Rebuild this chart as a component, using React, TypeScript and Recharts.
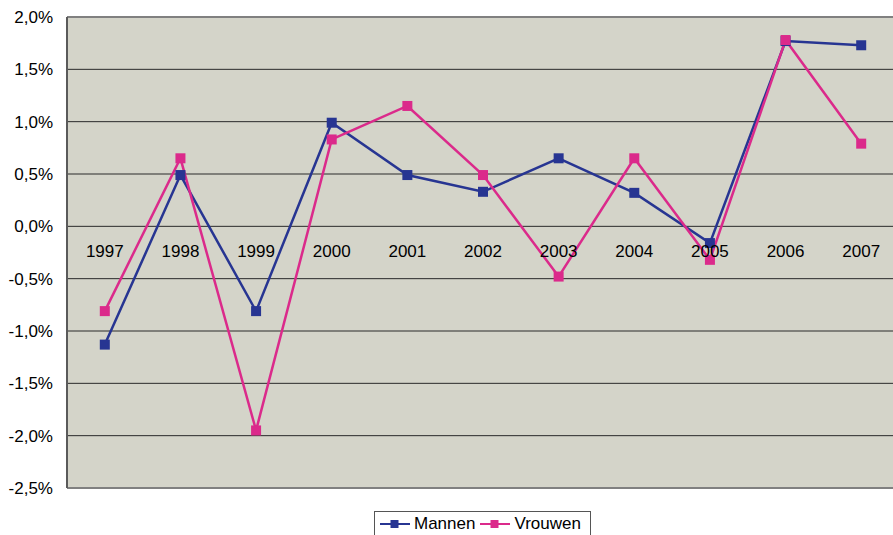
import React from "react";
import {
  LineChart,
  Line,
  XAxis,
  YAxis,
  CartesianGrid,
  ReferenceLine,
} from "recharts";

const years = ["1997", "1998", "1999", "2000", "2001", "2002", "2003", "2004", "2005", "2006", "2007"];
const mannen = [-1.13, 0.49, -0.81, 0.99, 0.49, 0.33, 0.65, 0.32, -0.16, 1.77, 1.73];
const vrouwen = [-0.81, 0.65, -1.95, 0.83, 1.15, 0.49, -0.48, 0.65, -0.32, 1.78, 0.79];
const yTicks = [-2.5, -2, -1.5, -1, -0.5, 0, 0.5, 1, 1.5, 2];

const data = years.map((y, i) => ({ year: y, mannen: mannen[i], vrouwen: vrouwen[i] }));

const W = 899;
const H = 545;
const M_TOP = 17;
const X_AXIS_H = 30;
const M_BOTTOM = 27;
const Y_MIN = -2.5;
const Y_MAX = 2;
const PLOT_H = H - M_TOP - M_BOTTOM - X_AXIS_H;
// jaartallen staan net onder de nullijn, niet onderaan
const ZERO_Y = M_TOP + (PLOT_H * Y_MAX) / (Y_MAX - Y_MIN);

const NAVY = "#273592";
const PINK = "#DB2A8B";
const FONT = "'Liberation Sans', Arial, sans-serif";

const fmt = (v: number) => v.toFixed(1).replace(".", ",") + "%";

function SquareDot(props: any) {
  const { cx, cy, fill } = props;
  if (cx == null || cy == null) return null;
  return <rect x={cx - 5} y={cy - 5} width={10} height={10} fill={fill} />;
}

function YearTick(props: any) {
  const { x, payload } = props;
  return (
    <text x={x} y={ZERO_Y + 25} textAnchor="middle" dominantBaseline="central" fontSize={17} fontFamily={FONT} fill="#000">
      {payload.value}
    </text>
  );
}

function LegendBox() {
  const item = (color: string, label: string) => (
    <span style={{ display: "inline-flex", alignItems: "center", marginRight: 4 }}>
      <svg width={32} height={12} style={{ marginRight: 3 }}>
        <line x1={1} y1={6} x2={31} y2={6} stroke={color} strokeWidth={2} />
        <rect x={11.5} y={2} width={8} height={8} fill={color} />
      </svg>
      {label}
    </span>
  );
  return (
    <div
      style={{
        position: "absolute",
        left: 374,
        top: 511,
        border: "1px solid #555",
        background: "#fff",
        padding: "2px 2px 4px 4px",
        fontFamily: FONT,
        fontSize: 17,
        lineHeight: "20px",
        whiteSpace: "nowrap",
        width: 217,
        boxSizing: "border-box",
        display: "flex",
      }}
    >
      {item(NAVY, "Mannen")}
      {item(PINK, "Vrouwen")}
    </div>
  );
}

export default function App() {
  return (
    <div style={{ position: "absolute", left: 0, top: 0, width: 893, height: 535, overflow: "hidden", background: "#fff" }}>
      <LineChart width={W} height={H} data={data} margin={{ top: M_TOP, right: 0, left: 0, bottom: M_BOTTOM }}>
        <CartesianGrid vertical={false} stroke="#2a2a2a" fill="#D4D4C9" fillOpacity={1} />
        <XAxis
          dataKey="year"
          scale="point"
          padding={{ left: 37.8, right: 37.8 }}
          height={X_AXIS_H}
          axisLine={false}
          tickLine={false}
          tick={<YearTick />}
          interval={0}
        />
        <YAxis
          domain={[Y_MIN, Y_MAX]}
          ticks={yTicks}
          width={67}
          tickFormatter={fmt}
          tickLine={false}
          tickSize={6}
          tickMargin={8}
          axisLine={{ stroke: "#5a5a5a", strokeWidth: 2 }}
          tick={{ fontSize: 17, fontFamily: FONT, fill: "#000" }}
          interval={0}
        />
        <ReferenceLine y={Y_MAX} stroke="#808080" strokeWidth={2} />
        <ReferenceLine y={Y_MIN} stroke="#808080" strokeWidth={2} />
        <Line
          dataKey="mannen"
          name="Mannen"
          stroke={NAVY}
          strokeWidth={2.5}
          dot={<SquareDot fill={NAVY} />}
          activeDot={false}
          isAnimationActive={false}
        />
        <Line
          dataKey="vrouwen"
          name="Vrouwen"
          stroke={PINK}
          strokeWidth={2.5}
          dot={<SquareDot fill={PINK} />}
          activeDot={false}
          isAnimationActive={false}
        />
      </LineChart>
      <LegendBox />
    </div>
  );
}
